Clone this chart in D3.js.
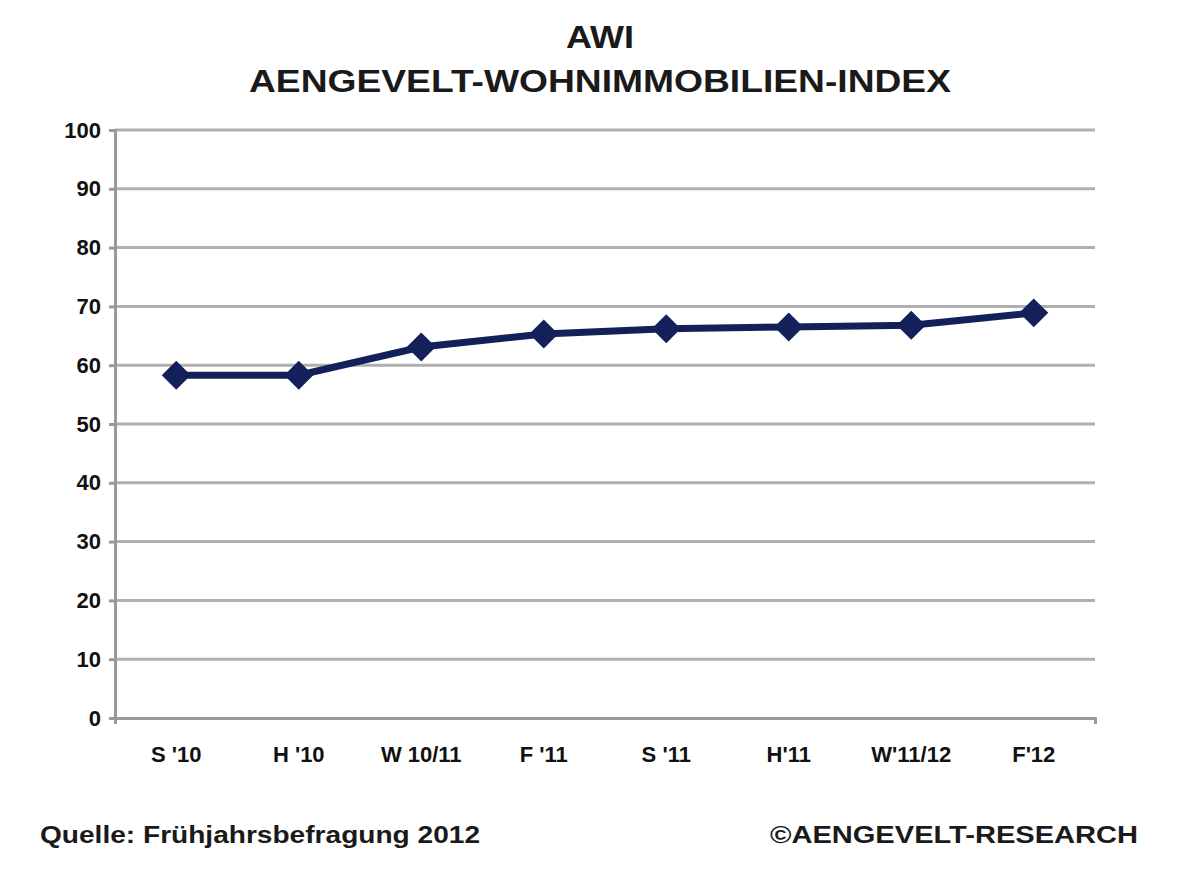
<!DOCTYPE html>
<html><head><meta charset="utf-8">
<script src="https://cdn.jsdelivr.net/npm/d3@7"></script>
<style>body{margin:0;background:#fff}</style></head>
<body><svg id="c" width="1200" height="872"></svg>
<script>
const categories=["S '10","H '10","W 10/11","F '11","S '11","H'11","W'11/12","F'12"];
const values=[58.3,58.3,63.1,65.3,66.2,66.5,66.8,68.9];
const yTicks=[0,10,20,30,40,50,60,70,80,90,100];
const svg=d3.select("#c");
const F="Liberation Sans, Arial, sans-serif";
const x=d3.scaleBand().domain(categories).range([115,1095]);
const y=d3.scaleLinear().domain([0,100]).range([718,130]);
svg.append("g").selectAll("line").data(yTicks.slice(1)).join("line")
 .attr("x1",115).attr("x2",1095).attr("y1",d=>y(d)).attr("y2",d=>y(d))
 .attr("stroke","#b0b0b0").attr("stroke-width",3);
const ya=svg.append("g").attr("transform","translate(115,0)").call(d3.axisLeft(y).tickValues(yTicks).tickSize(6).tickPadding(8));
const xa=svg.append("g").attr("transform","translate(0,718)").call(d3.axisBottom(x).tickSize(6).tickPadding(22));
[ya,xa].forEach(a=>{a.selectAll("path,line").attr("stroke","#999").attr("stroke-width",3);
 a.selectAll("text").attr("font-family",F).attr("font-weight","bold").attr("font-size",22).attr("fill","#111");});
xa.selectAll(".tick line").remove();
svg.append("path").datum(values).attr("fill","none").attr("stroke","#14205a").attr("stroke-width",7)
 .attr("d",d3.line().x((d,i)=>x(categories[i])+x.bandwidth()/2).y(d=>y(d)));
svg.append("g").selectAll("path").data(values).join("path")
 .attr("transform",(d,i)=>`translate(${x(categories[i])+x.bandwidth()/2},${y(d)}) rotate(45)`)
 .attr("d",d3.symbol(d3.symbolSquare,420)).attr("fill","#14205a");
function t(xp,yp,anchor,size,len,s){svg.append("text").attr("x",xp).attr("y",yp).attr("text-anchor",anchor).attr("font-family",F).attr("font-weight","bold").attr("font-size",size).attr("fill","#1a1a1a").attr("textLength",len).attr("lengthAdjust","spacingAndGlyphs").text(s);}
t(600,48,"middle",32,68,"AWI");
t(600,92,"middle",32,702,"AENGEVELT-WOHNIMMOBILIEN-INDEX");
t(40,843,"start",24,440,"Quelle: Frühjahrsbefragung 2012");
t(1138,843,"end",24,368,"©AENGEVELT-RESEARCH");
</script></body></html>
